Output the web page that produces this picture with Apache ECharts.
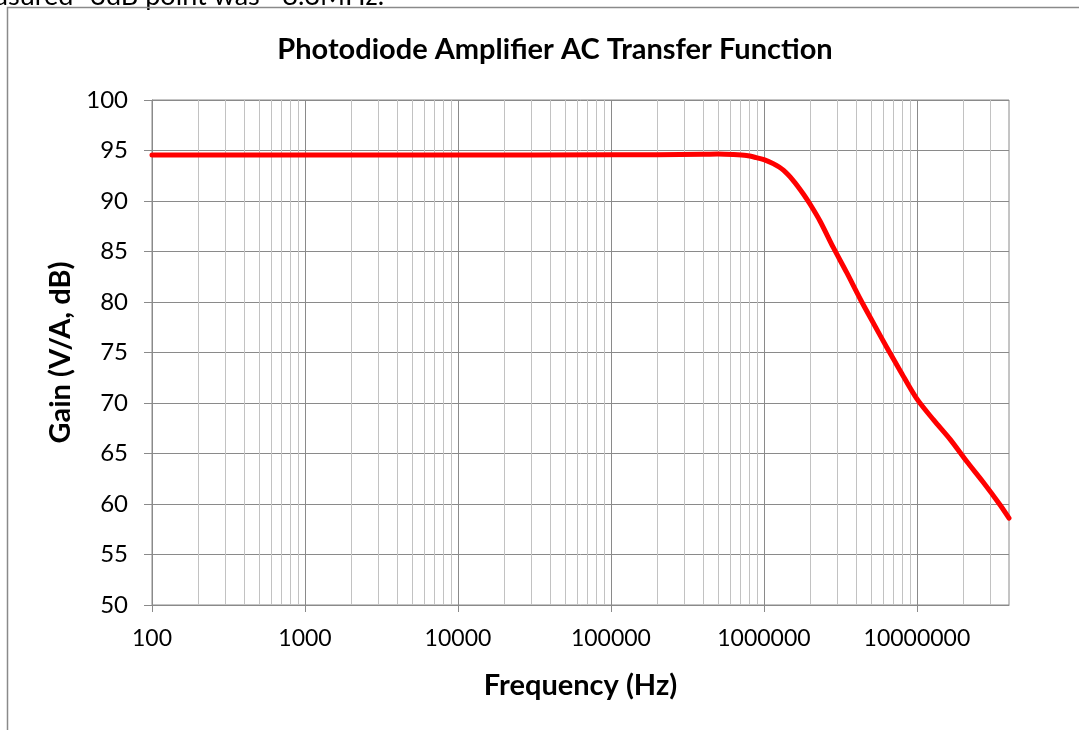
<!DOCTYPE html>
<html>
<head>
<meta charset="utf-8">
<script src="https://cdn.jsdelivr.net/npm/echarts@6/dist/echarts.min.js"></script>
<style>html,body{margin:0;padding:0;background:#fff;}#c{width:1079px;height:730px;}</style>
</head>
<body>
<div id="c"></div>
<script>
const freqHz = [100, 1000, 10000, 100000, 400000, 500000, 630000, 770000, 890000, 1000000,
  1150000, 1340000, 1560000, 1810000, 2000000, 2330000, 2840000, 3480000, 4260000, 5200000,
  6360000, 7770000, 10000000, 12900000, 16500000, 21200000, 27300000, 35000000, 40000000];
const gainDb = [94.55, 94.55, 94.55, 94.57, 94.62, 94.65, 94.6, 94.5, 94.3, 94.1,
  93.7, 93.05, 92.0, 90.7, 89.7, 88.0, 85.4, 82.9, 80.3, 77.9,
  75.5, 73.2, 70.4, 68.3, 66.4, 64.2, 62.1, 59.9, 58.6];
const decadeTicks = [100, 1000, 10000, 100000, 1000000, 10000000];
const minorMultipliers = [2, 3, 4, 5, 6, 7, 8, 9];
const xMin = 100, xMax = 40000000;
const yMin = 50, yMax = 100, yStep = 5;
const titleText = 'Photodiode Amplifier AC Transfer Function';
const xName = 'Frequency (Hz)';
const yName = 'Gain (V/A, dB)';
const noteText = 'The measured -3dB point was ~8.3MHz.';

const minorGrid = [];
decadeTicks.forEach(d => minorMultipliers.forEach(m => { const v = d * m; if (v < xMax) minorGrid.push(v); }));

const FONT = 'Lato';
const chart = echarts.init(document.getElementById('c'));
chart.setOption({
  animation: false,
  backgroundColor: '#ffffff',
  title: {
    text: titleText, left: 550, top: 30, textAlign: 'center',
    textStyle: { fontFamily: FONT, fontWeight: 'bold', fontSize: 29, color: '#000' }
  },
  graphic: [
    { type: 'rect', shape: { x: 7.5, y: 7.5, width: 1200, height: 900 },
      style: { fill: 'none', stroke: '#8a8a8a', lineWidth: 1.5 }, z: 100 },
    { type: 'text', x: 384, y: 10, style: { text: noteText, fontFamily: FONT, fontSize: 27,
      fill: '#000', align: 'right', verticalAlign: 'bottom' }, z: 99 }
  ],
  grid: { left: 152, right: 70, top: 100, bottom: 125, show: true, borderColor: '#8a8a8a', borderWidth: 1 },
  xAxis: {
    type: 'log', logBase: 10, min: xMin, max: xMax,
    name: xName, nameLocation: 'middle', nameGap: 66,
    nameTextStyle: { fontFamily: FONT, fontWeight: 'bold', fontSize: 29, color: '#000' },
    axisLine: { show: true, lineStyle: { color: '#8a8a8a', width: 1 } },
    axisTick: { show: true, length: 7, lineStyle: { color: '#8a8a8a' }, customValues: decadeTicks },
    axisLabel: { fontFamily: FONT, fontSize: 23, color: '#000', margin: 22, customValues: decadeTicks,
      formatter: v => String(Math.round(v)) },
    splitLine: { show: true, lineStyle: { color: '#8a8a8a', width: 1 } },
    minorTick: { show: false }, minorSplitLine: { show: false }
  },
  yAxis: {
    type: 'value', min: yMin, max: yMax, interval: yStep,
    name: yName, nameLocation: 'middle', nameGap: 74, nameRotate: 90,
    nameTextStyle: { fontFamily: FONT, fontWeight: 'bold', fontSize: 29, color: '#000' },
    axisLine: { show: true, lineStyle: { color: '#8a8a8a', width: 1 } },
    axisTick: { show: true, length: 8, lineStyle: { color: '#8a8a8a' } },
    axisLabel: { fontFamily: FONT, fontSize: 24, color: '#000', margin: 24 },
    splitLine: { show: true, lineStyle: { color: '#8a8a8a', width: 1 } }
  },
  series: [
    {
      type: 'line', name: 'minor-grid', data: [], z: 1, silent: true,
      markLine: {
        z: 1, silent: true, symbol: ['none', 'none'], label: { show: false },
        lineStyle: { color: '#c2c2c2', width: 1, type: 'solid' },
        emphasis: { disabled: true },
        data: minorGrid.map(v => ({ xAxis: v }))
      }
    },
    {
      type: 'line', name: 'Gain', z: 10, zlevel: 1,
      data: freqHz.map((f, i) => [f, gainDb[i]]),
      showSymbol: false, smooth: 0.3,
      lineStyle: { color: '#ff0000', width: 5, cap: 'round', join: 'round' }
    }
  ]
});
</script>
</body>
</html>
